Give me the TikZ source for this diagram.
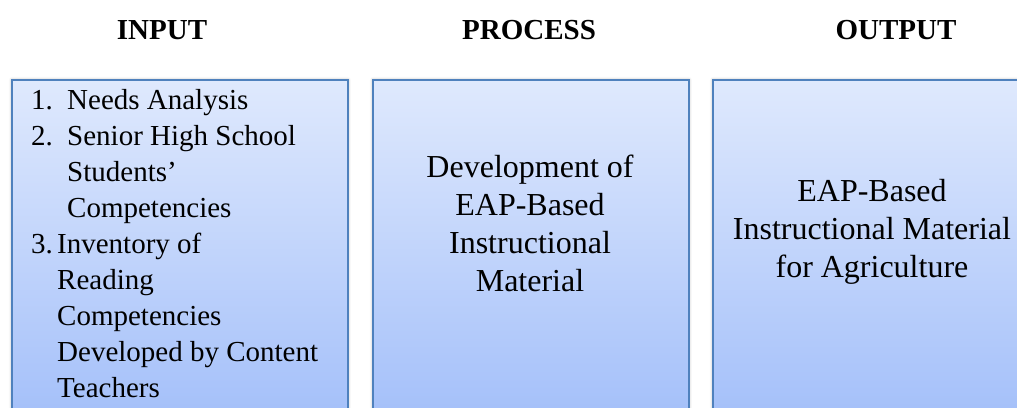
\documentclass[tikz,border=0pt]{standalone}
\usepackage{fontspec}
\setmainfont{LiberationSerif}[Extension=.ttf,
  UprightFont=*-Regular, BoldFont=*-Bold,
  ItalicFont=*-Italic, BoldItalicFont=*-BoldItalic]
\usetikzlibrary{shadows.blur}

\definecolor{boxtop}{HTML}{DFE9FD}
\definecolor{boxbottom}{HTML}{A0BDF9}
\definecolor{boxline}{HTML}{4F81BD}

\begin{document}
\begin{tikzpicture}[x=1pt,y=-1pt,
  colbox/.style={draw=boxline, line width=1.8pt, top color=boxtop,
    bottom color=boxbottom, inner sep=0pt, anchor=north west,
    minimum height=361pt,
    blur shadow={shadow xshift=0pt, shadow yshift=0pt,
      shadow blur radius=3pt, shadow opacity=35}},
  heading/.style={font=\fontsize{29}{34}\selectfont\rmfamily\bfseries,
    inner sep=0pt, anchor=base},
  listtext/.style={inner sep=0pt, anchor=base west,
    font=\fontsize{29}{36}\selectfont\rmfamily},
  midtext/.style={inner sep=0pt, anchor=base,
    font=\fontsize{32}{38}\selectfont\rmfamily}]

\useasboundingbox (0,0) rectangle (1017,407);
\clip (0,0) rectangle (1017,407);

% column headings
\node[heading] (hin)  at (162,39) {INPUT};
\node[heading] (hpro) at (529,39) {PROCESS};
\node[heading] (hout) at (896,39) {OUTPUT};

% the three columns
\node[colbox, minimum width=336pt] (inbox)  at (11,79)  {};
\node[colbox, minimum width=316pt] (probox) at (372,79) {};
\node[colbox, minimum width=318pt] (outbox) at (712,79) {};

% input list
\node[listtext] (inlist) at (31,109) {\parbox[t]{310pt}{%
  \makebox[36pt][l]{1.}Needs Analysis\\
  \makebox[36pt][l]{2.}Senior High School\\
  \hspace*{36pt}Students’\\
  \hspace*{36pt}Competencies\\
  \makebox[26pt][l]{3.}Inventory of\\
  \hspace*{26pt}Reading\\
  \hspace*{26pt}Competencies\\
  \hspace*{26pt}Developed by Content\\
  \hspace*{26pt}Teachers}};

% process text
\node[midtext] (protext) at (530,177) {\parbox[t]{300pt}{\centering
  Development of\\ EAP-Based\\ Instructional\\ Material}};

% output text
\node[midtext] (outtext) at (872,201) {\parbox[t]{310pt}{\centering
  EAP-Based\\ Instructional Material\\ for Agriculture}};
\end{tikzpicture}
\end{document}
